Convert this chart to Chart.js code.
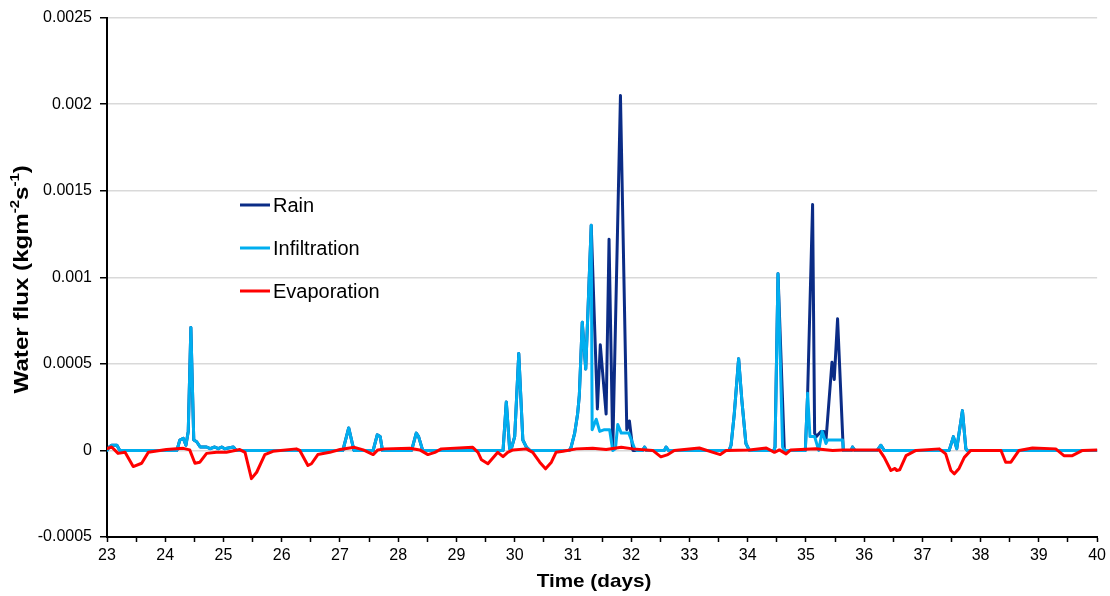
<!DOCTYPE html>
<html>
<head>
<meta charset="utf-8">
<title>Water flux</title>
<script src="https://cdn.jsdelivr.net/npm/chart.js@4.4.1/dist/chart.umd.min.js"></script>
<style>
  html, body { margin: 0; padding: 0; background: #fff; }
  #wrap { width: 1110px; height: 596px; }
</style>
</head>
<body>
<div id="wrap"><canvas id="flux" width="1110" height="596"></canvas></div>
<script>
// Time (days) and water flux (kg m-2 s-1) for each series
const rainDays = [23.0, 23.04, 23.08, 23.17, 23.22, 24.2, 24.25, 24.31, 24.355, 24.395, 24.44, 24.49, 24.54, 24.6, 24.71, 24.77, 24.85, 24.91, 24.97, 25.02, 25.17, 25.22,
  27.05, 27.15, 27.24, 27.57, 27.64, 27.69, 27.73, 28.23, 28.31, 28.35, 28.42,
  29.8, 29.856, 29.913, 29.95, 30.0, 30.07, 30.14, 30.2, 30.26,
  30.94, 30.97, 31.03, 31.08, 31.11, 31.16, 31.22, 31.314, 31.42, 31.47, 31.57, 31.62, 31.684, 31.816, 31.925, 31.97, 32.03,
  32.2, 32.23, 32.26, 32.57, 32.6, 32.64,
  33.68, 33.715, 33.77, 33.845, 33.9, 33.97, 34.03,
  34.45, 34.47, 34.521, 34.63,
  34.99, 35.03, 35.115, 35.15, 35.18, 35.26, 35.31, 35.345, 35.448, 35.487, 35.544, 35.642,
  35.78, 35.8, 35.84, 36.225, 36.288, 36.345,
  37.46, 37.533, 37.59, 37.688, 37.746, 37.77, 40.0];
const rainFlux = [0, 0.00002, 0.00003, 0.00003, 0, 0, 0.00006, 0.00007, 0.00003, 0.00011, 0.00071, 0.00006, 0.00005, 0.00002, 0.00002, 0.00001, 0.00002, 0.00001, 0.00002, 0.00001, 0.00002, 0,
  0, 0.00013, 0, 0, 0.00009, 0.00008, 0, 0, 0.0001, 0.00008, 0,
  0, 0.00028, 0.00001, 0.00002, 0.00008, 0.00056, 0.00006, 0.00002, 0,
  0, 0.00002, 0.0001, 0.00021, 0.00032, 0.00074, 0.00047, 0.0013, 0.00024, 0.00061, 0.00021, 0.00122, 0.00001, 0.00205, 0.00012, 0.00017, 0,
  0, 0.00002, 0, 0, 0.00002, 0,
  0, 0.00003, 0.00021, 0.00053, 0.00029, 0.00004, 0,
  0, 0.00002, 0.00102, 0,
  0, 0.00033, 0.00142, 0.0001, 0.00008, 0.00011, 0.00011, 0.00006, 0.00051, 0.00041, 0.00076, 0,
  0, 0.00002, 0, 0, 0.00003, 0,
  0, 0.00008, 0.00001, 0.00023, 0.00001, 0, 0];

const infDays = [23.0, 23.04, 23.08, 23.17, 23.22, 24.2, 24.25, 24.31, 24.355, 24.395, 24.44, 24.49, 24.54, 24.6, 24.71, 24.77, 24.85, 24.91, 24.97, 25.02, 25.17, 25.22,
  27.05, 27.15, 27.24, 27.57, 27.64, 27.69, 27.73, 28.23, 28.31, 28.35, 28.42,
  29.8, 29.856, 29.913, 29.95, 30.0, 30.07, 30.14, 30.2, 30.26,
  30.94, 30.97, 31.03, 31.08, 31.11, 31.16, 31.22, 31.314, 31.33, 31.4, 31.46, 31.54, 31.63, 31.684, 31.73, 31.77, 31.83, 31.96, 32.06, 32.1,
  32.2, 32.23, 32.26, 32.57, 32.6, 32.64,
  33.68, 33.715, 33.77, 33.845, 33.9, 33.97, 34.03,
  34.45, 34.47, 34.521, 34.6, 34.63,
  34.99, 35.03, 35.07, 35.15, 35.22, 35.28, 35.345, 35.37, 35.63, 35.645,
  35.78, 35.8, 35.84, 36.225, 36.288, 36.345,
  37.46, 37.533, 37.59, 37.688, 37.746, 37.77, 40.0];
const infFlux = [0, 0.00002, 0.00003, 0.00003, 0, 0, 0.00006, 0.00007, 0.00003, 0.00011, 0.00071, 0.00006, 0.00005, 0.00002, 0.00002, 0.00001, 0.00002, 0.00001, 0.00002, 0.00001, 0.00002, 0,
  0, 0.00013, 0, 0, 0.00009, 0.00008, 0, 0, 0.0001, 0.00008, 0,
  0, 0.00028, 0.00001, 0.00002, 0.00008, 0.00056, 0.00006, 0.00002, 0,
  0, 0.00002, 0.0001, 0.00021, 0.00032, 0.00074, 0.00047, 0.0013, 0.00012, 0.00018, 0.00011, 0.00012, 0.00012, 0, 0.00001, 0.00015, 0.0001, 0.0001, 0.00001, 0,
  0, 0.00002, 0, 0, 0.00002, 0,
  0, 0.00003, 0.00021, 0.00053, 0.00029, 0.00004, 0,
  0, 0.00002, 0.00102, 0.00002, 0,
  0, 0.00033, 0.00008, 0.00008, 0, 0.00011, 0.00004, 0.00006, 0.00006, 0,
  0, 0.00002, 0, 0, 0.00003, 0,
  0, 0.00008, 0.00001, 0.00023, 0.00001, 0, 0];

const evapDays = [23.0, 23.08, 23.19, 23.31, 23.45, 23.595, 23.71, 24.02, 24.31, 24.42, 24.51, 24.595, 24.71, 24.88, 25.05, 25.28, 25.37, 25.48, 25.57, 25.71, 25.85,
  26.25, 26.31, 26.45, 26.51, 26.62, 26.825, 27.0, 27.25, 27.4, 27.57, 27.65, 27.77, 28.2, 28.37, 28.51, 28.63, 28.74,
  29.28, 29.37, 29.43, 29.54, 29.71, 29.8, 29.88, 29.97, 30.2, 30.31, 30.43, 30.53, 30.63, 30.71, 30.83, 31.06,
  31.34, 31.57, 31.83, 32.03, 32.37, 32.51, 32.63, 32.74, 33.17, 33.46, 33.53, 33.63, 34.03, 34.32, 34.46, 34.545, 34.66, 34.74,
  35.17, 35.46, 35.63, 36.26, 36.345, 36.46, 36.53, 36.56, 36.61, 36.72, 36.89, 37.29, 37.4, 37.49, 37.55, 37.63, 37.72, 37.83,
  38.35, 38.43, 38.52, 38.66, 38.89, 39.29, 39.43, 39.575, 39.75, 40.0];
const evapFlux = [0.00001, 0.00002, -0.000017, -0.000011, -0.000093, -0.000074, -0.000011, 0.000005, 0.000012, 0.000003, -0.000074, -0.000068, -0.000017, -0.000011, -0.000011, 0.000005, -0.000011, -0.000163, -0.000126, -0.000024, -0.000005,
  0.000009, 0, -0.000087, -0.000077, -0.000024, -0.000011, 0.000005, 0.000018, 0.000003, -0.000024, 0.000003, 0.000009, 0.000012, 0.000003, -0.000024, -0.000011, 0.000009,
  0.000018, -0.000011, -0.000054, -0.000077, -0.000011, -0.000036, -0.000011, 0.000003, 0.000009, -0.000011, -0.000068, -0.000106, -0.000068, -0.000011, -0.000005, 0.000009,
  0.000012, 0.000005, 0.000018, 0.000009, 0, -0.000037, -0.000024, 0, 0.000014, -0.000017, -0.000024, 0, 0.000003, 0.000014, -0.000011, 0.000003, -0.00002, 0.000003,
  0.00001, 0, 0.000003, 0.000003, -0.00004, -0.000116, -0.000104, -0.000116, -0.000112, -0.00003, 0, 0.000009, -0.00002, -0.000116, -0.000135, -0.000104, -0.00004, 0,
  0, -0.000068, -0.000068, 0, 0.000014, 0.000009, -0.00003, -0.00003, 0, 0.000003];

const seriesNames = ['Rain', 'Infiltration', 'Evaporation'];
const seriesColors = ['#0B2C86', '#00AEEF', '#FF0000'];

const xMin = 23, xMax = 40, xStep = 0.5;
const yMin = -0.0005, yMax = 0.0025, yStep = 0.0005;

const xTitle = 'Time (days)';

const FONT = '"Liberation Sans", Arial, Helvetica, sans-serif';

function pairs(days, flux) {
  return days.map((d, i) => ({ x: d, y: flux[i] }));
}

// Legend drawn inside the plot area, one short line per series
const fluxLegend = {
  id: 'fluxLegend',
  afterDatasetsDraw(chart) {
    const ctx = chart.ctx;
    const rows = [205, 248, 291];
    ctx.save();
    ctx.font = '20px ' + FONT;
    ctx.textBaseline = 'middle';
    ctx.textAlign = 'left';
    seriesNames.forEach((name, i) => {
      ctx.strokeStyle = seriesColors[i];
      ctx.lineWidth = 3;
      ctx.beginPath();
      ctx.moveTo(240, rows[i]);
      ctx.lineTo(270, rows[i]);
      ctx.stroke();
      ctx.fillStyle = '#000';
      ctx.fillText(name, 273, rows[i] + 1);
    });
    ctx.restore();
  }
};

// Axis titles: slightly widened bold lettering, exponents raised on the flux title
const fluxAxisTitles = {
  id: 'fluxAxisTitles',
  afterDraw(chart) {
    const ctx = chart.ctx;
    const area = chart.chartArea;

    // horizontal title
    ctx.save();
    ctx.translate(594, 582);
    ctx.scale(1.09, 1);
    ctx.font = 'bold 19px ' + FONT;
    ctx.textBaseline = 'middle';
    ctx.textAlign = 'center';
    ctx.fillStyle = '#000';
    ctx.fillText(xTitle, 0, 0);
    ctx.restore();

    // vertical title
    const big = 'bold 21px ' + FONT;
    const small = 'bold 13px ' + FONT;
    const parts = [
      ['Water flux (kgm', big, 0],
      ['-2', small, -7],
      ['s', big, 0],
      ['-1', small, -7],
      [')', big, 0]
    ];
    ctx.save();
    let total = 0;
    parts.forEach(p => { ctx.font = p[1]; total += ctx.measureText(p[0]).width; });
    ctx.translate(22, (area.top + area.bottom) / 2 + 2);
    ctx.rotate(-Math.PI / 2);
    ctx.scale(1.15, 1);
    ctx.textBaseline = 'middle';
    ctx.textAlign = 'left';
    ctx.fillStyle = '#000';
    let x = -total / 2;
    parts.forEach(p => {
      ctx.font = p[1];
      ctx.fillText(p[0], x, p[2]);
      x += ctx.measureText(p[0]).width;
    });
    ctx.restore();
  }
};

const lineStyle = {
  borderWidth: 3,
  pointRadius: 0,
  pointHoverRadius: 0,
  tension: 0,
  fill: false,
  borderJoinStyle: 'round',
  borderCapStyle: 'round'
};

// First dataset is painted last, so evaporation sits on top and rain underneath
new Chart(document.getElementById('flux'), {
  type: 'line',
  data: {
    datasets: [
      Object.assign({ label: seriesNames[2], data: pairs(evapDays, evapFlux), borderColor: seriesColors[2] }, lineStyle),
      Object.assign({ label: seriesNames[1], data: pairs(infDays, infFlux), borderColor: seriesColors[1] }, lineStyle),
      Object.assign({ label: seriesNames[0], data: pairs(rainDays, rainFlux), borderColor: seriesColors[0] }, lineStyle)
    ]
  },
  options: {
    responsive: false,
    animation: false,
    events: [],
    layout: { padding: { top: 14, right: 12, left: 0, bottom: 0 } },
    plugins: {
      legend: { display: false },
      tooltip: { enabled: false }
    },
    scales: {
      x: {
        type: 'linear',
        min: xMin,
        max: xMax,
        afterFit: s => { s.height = 59; },
        border: { display: true, color: '#000', width: 2 },
        grid: { drawOnChartArea: false, drawTicks: true, tickLength: 5, tickColor: '#000', tickWidth: 1.5 },
        ticks: {
          stepSize: xStep,
          autoSkip: false,
          maxRotation: 0,
          padding: 4,
          color: '#000',
          font: { family: FONT, size: 16 },
          callback: v => (Math.abs(v - Math.round(v)) < 1e-9 ? String(Math.round(v)) : '')
        },
        title: { display: false }
      },
      y: {
        type: 'linear',
        min: yMin,
        max: yMax,
        afterFit: s => { s.width = 107; },
        border: { display: true, color: '#000', width: 2 },
        grid: { color: '#D9D9D9', lineWidth: 1.5, drawTicks: true, tickLength: 7, tickColor: '#000', tickWidth: 1.5 },
        ticks: {
          stepSize: yStep,
          padding: 8,
          color: '#000',
          font: { family: FONT, size: 16 },
          callback: v => String(parseFloat(Number(v).toFixed(4)))
        }
      }
    }
  },
  plugins: [fluxLegend, fluxAxisTitles]
});
</script>
</body>
</html>
